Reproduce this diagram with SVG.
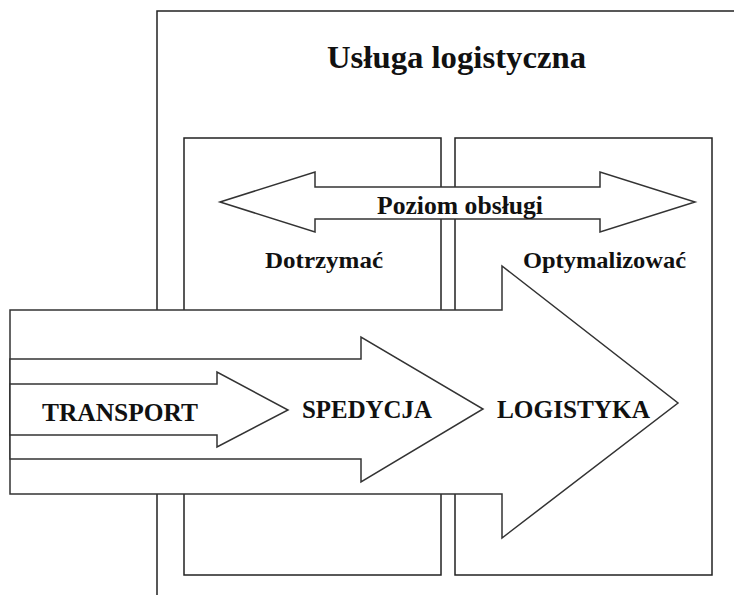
<svg xmlns="http://www.w3.org/2000/svg" width="734" height="595" viewBox="0 0 734 595">
<style>
.frame{fill:none;stroke:#222;stroke-width:1.5}
.box{fill:none;stroke:#222;stroke-width:1.5}
.arrow{fill:#fff;stroke:#333;stroke-width:1.5;stroke-linejoin:miter}
.t{font-family:"Liberation Serif","Times New Roman",serif;font-weight:bold;fill:#111;text-anchor:middle}
</style>
<rect width="734" height="595" fill="#fff"/>
<g id="outer">
<path class="frame" d="M157,595 V11 H734"/>
<text class="t" x="456.5" y="68" font-size="31" textLength="259" lengthAdjust="spacingAndGlyphs">Usługa logistyczna</text>
</g>
<g id="box-dotrzymac">
<rect class="box" x="184" y="138" width="257" height="437"/>
</g>
<g id="box-optymalizowac">
<rect class="box" x="455" y="138" width="257" height="437"/>
</g>
<g id="poziom-obslugi">
<path class="arrow" d="M220,202 L315,172 V187 H600 V172 L695,202 L600,232 V219 H315 V232 Z"/>
<text class="t" x="460" y="214" font-size="25" textLength="166" lengthAdjust="spacingAndGlyphs">Poziom obsługi</text>
</g>
<g id="label-dotrzymac">
<text class="t" x="324" y="268" font-size="24" textLength="118" lengthAdjust="spacingAndGlyphs">Dotrzymać</text>
</g>
<g id="label-optymalizowac">
<text class="t" x="604.5" y="268" font-size="24" textLength="163" lengthAdjust="spacingAndGlyphs">Optymalizować</text>
</g>
<g id="logistyka">
<path class="arrow" d="M10,310 H502 V266 L678,403 L502,538 V494 H10 Z"/>
<text class="t" x="573.5" y="418" font-size="25" textLength="153" lengthAdjust="spacingAndGlyphs">LOGISTYKA</text>
</g>
<g id="spedycja">
<path class="arrow" d="M10,359 H361 V337 L483,409 L361,482 V459 H10 Z"/>
<text class="t" x="367" y="418" font-size="25" textLength="130" lengthAdjust="spacingAndGlyphs">SPEDYCJA</text>
</g>
<g id="transport">
<path class="arrow" d="M10,384 H217 V372 L288,410 L217,447 V435 H10 Z"/>
<text class="t" x="120" y="421" font-size="25" textLength="156" lengthAdjust="spacingAndGlyphs">TRANSPORT</text>
</g>
<g id="connectors"></g>
</svg>
